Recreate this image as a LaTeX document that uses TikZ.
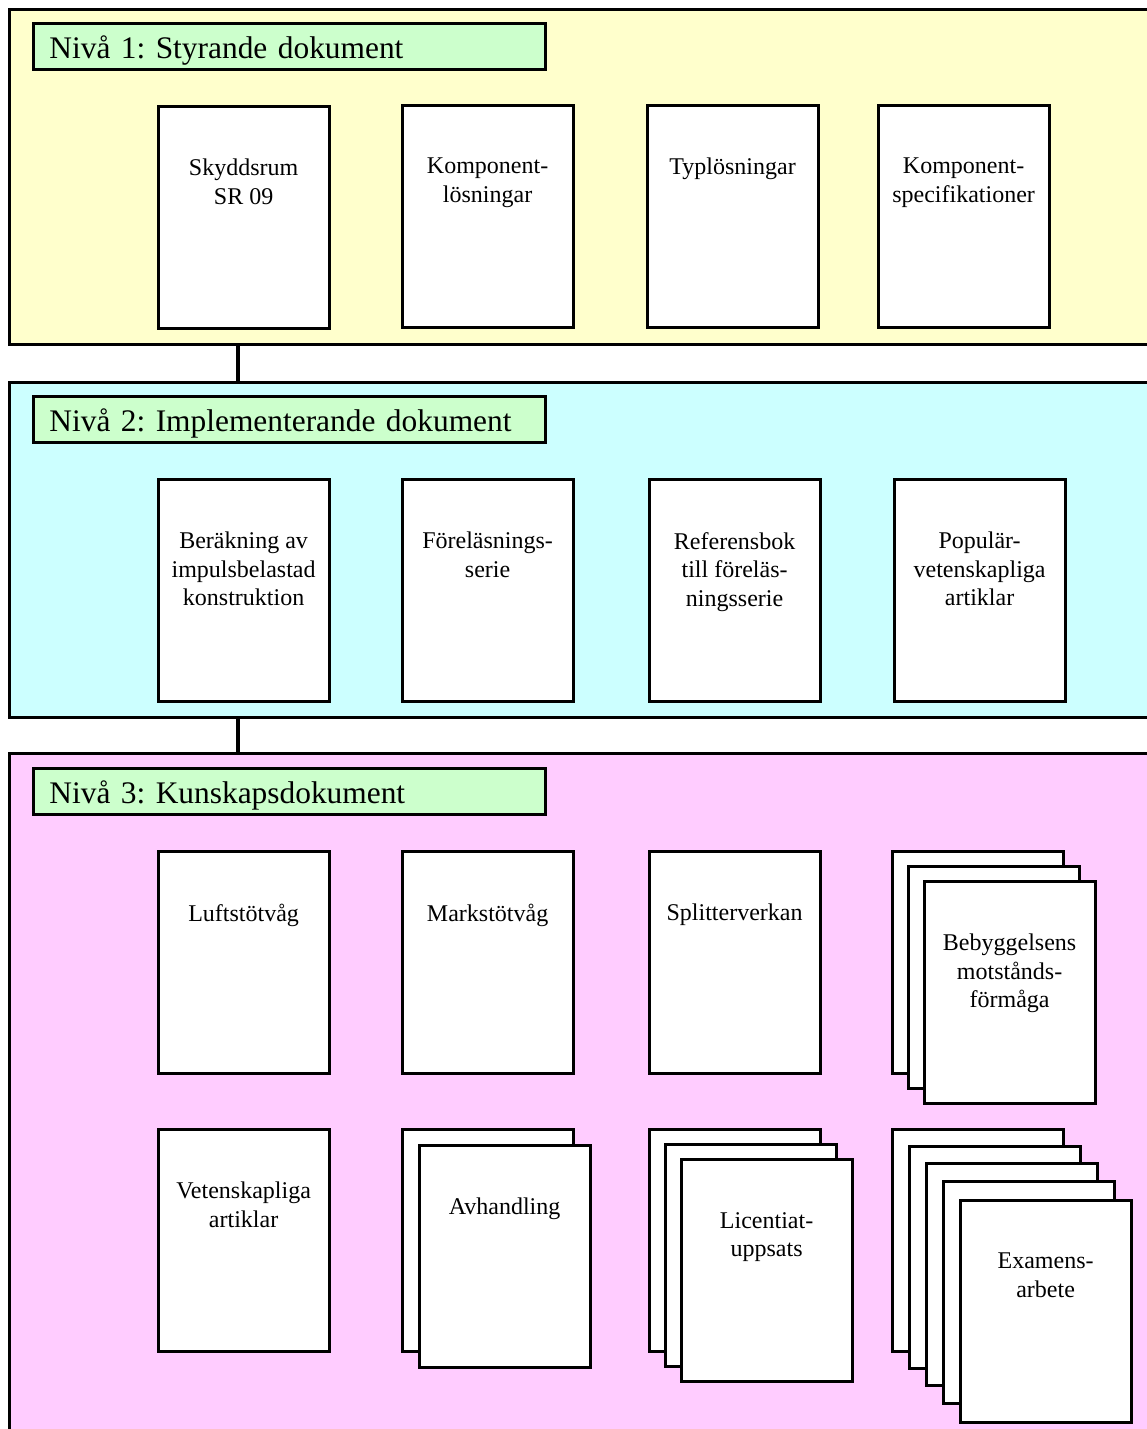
\documentclass[tikz,border=0pt]{standalone}
\usepackage{fontspec}
\setmainfont{Liberation Serif}
\usetikzlibrary{positioning}
\definecolor{lvlone}{HTML}{FFFFCC}
\definecolor{lvltwo}{HTML}{CCFFFF}
\definecolor{lvlthree}{HTML}{FFCCFF}
\definecolor{titlegreen}{HTML}{CCFFCC}
\frenchspacing
\begin{document}
\begin{tikzpicture}[x=1pt, y=-1pt,
    panel/.style={draw, line width=3.2pt, anchor=north west, minimum width=1160pt, inner sep=0pt},
    ttl/.style={draw, fill=titlegreen, line width=2.8pt, anchor=north west, text width=480pt, align=left,
        inner xsep=16pt, inner ysep=0pt, minimum height=46pt, text height=28pt, text depth=4pt,
        font=\fontsize{31.4pt}{36pt}\selectfont},
    doc/.style={draw, fill=white, line width=3.2pt, anchor=north west, minimum width=171pt,
        minimum height=222pt, inner sep=0pt},
    doctext/.style={anchor=north, align=center, inner sep=0pt, font=\fontsize{24pt}{28.5pt}\selectfont},
    conn/.style={line width=3.2pt}]
    \clip (0,0) rectangle (1147,1429);
    % levels
    \node[panel, fill=lvlone, minimum height=335pt] (p1) at (8,8) {};
    \node[panel, fill=lvltwo, minimum height=335pt] (p2) at (8,381) {};
    \node[panel, fill=lvlthree, minimum height=720pt] (p3) at (8,752) {};
    \draw[conn] (p1.south -| 238,0) -- (p2.north -| 238,0);
    \draw[conn] (p2.south -| 238,0) -- (p3.north -| 238,0);
    \node[ttl] (l1) at (32,22) {Nivå 1: Styrande dokument};
    \node[ttl] (l2) at (32,395) {Nivå 2: Implementerande dokument};
    \node[ttl] (l3) at (32,767) {Nivå 3: Kunskapsdokument};
    % nivå 1
    \node[doc] (d11) at (156.5,105) {};
    \node[doc] (d12) at (400.5,104) {};
    \node[doc] (d13) at (645.5,104) {};
    \node[doc] (d14) at (876.5,104) {};
    \node[doctext] (t11) at ([yshift=-54pt]d11.north) {Skyddsrum\\SR 09};
    \node[doctext] (t12) at ([yshift=-54pt]d12.north) {Komponent-\\lösningar};
    \node[doctext] (t13) at ([yshift=-54pt]d13.north) {Typlösningar};
    \node[doctext] (t14) at ([yshift=-54pt]d14.north) {Komponent-\\specifikationer};
    % nivå 2
    \node[doc] (d21) at (156.5,478) {};
    \node[doc] (d22) at (400.5,478) {};
    \node[doc] (d23) at (647.5,478) {};
    \node[doc] (d24) at (892.5,478) {};
    \node[doctext] (t21) at ([yshift=-54pt]d21.north) {Beräkning av\\impulsbelastad\\konstruktion};
    \node[doctext] (t22) at ([yshift=-54pt]d22.north) {Föreläsnings-\\serie};
    \node[doctext] (t23) at ([yshift=-54pt]d23.north) {Referensbok\\till föreläs-\\ningsserie};
    \node[doctext] (t24) at ([yshift=-54pt]d24.north) {Populär-\\vetenskapliga\\artiklar};
    % nivå 3, rad 1
    \node[doc] (d31) at (156.5,850) {};
    \node[doc] (d32) at (400.5,850) {};
    \node[doc] (d33) at (647.5,850) {};
    \node[doc] (d34a) at (890.5,850) {};
    \node[doc] (d34b) at (906.5,865) {};
    \node[doc] (d34) at (922.5,880) {};
    \node[doctext] (t31) at ([yshift=-54pt]d31.north) {Luftstötvåg};
    \node[doctext] (t32) at ([yshift=-54pt]d32.north) {Markstötvåg};
    \node[doctext] (t33) at ([yshift=-54pt]d33.north) {Splitterverkan};
    \node[doctext] (t34) at ([yshift=-54pt]d34.north) {Bebyggelsens\\motstånds-\\förmåga};
    % nivå 3, rad 2
    \node[doc] (d41) at (156.5,1128) {};
    \node[doc] (d42a) at (400.5,1128) {};
    \node[doc] (d42) at (417.5,1144) {};
    \node[doc] (d43a) at (647.5,1128) {};
    \node[doc] (d43b) at (663.5,1143) {};
    \node[doc] (d43) at (679.5,1158) {};
    \node[doc] (d44a) at (890.5,1128) {};
    \node[doc] (d44b) at (907.5,1145) {};
    \node[doc] (d44c) at (924.5,1162) {};
    \node[doc] (d44d) at (941.5,1180) {};
    \node[doc] (d44) at (958.5,1199) {};
    \node[doctext] (t41) at ([yshift=-54pt]d41.north) {Vetenskapliga\\artiklar};
    \node[doctext] (t42) at ([yshift=-54pt]d42.north) {Avhandling};
    \node[doctext] (t43) at ([yshift=-54pt]d43.north) {Licentiat-\\uppsats};
    \node[doctext] (t44) at ([yshift=-54pt]d44.north) {Examens-\\arbete};
\end{tikzpicture}
\end{document}
